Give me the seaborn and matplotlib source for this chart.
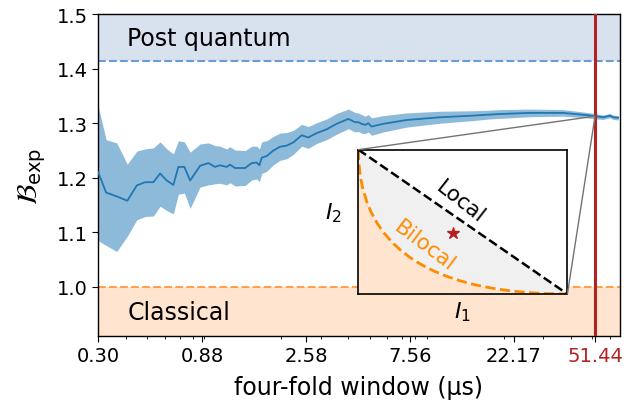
import numpy as np
import matplotlib
matplotlib.use("Agg")
import matplotlib.pyplot as plt
from matplotlib.patches import ConnectionPatch
import matplotlib.transforms as mtransforms
import pandas as pd
import seaborn as sns

# ---------------- data ----------------
window_us = [0.30, 0.326, 0.364, 0.406, 0.448, 0.488, 0.532, 0.570, 0.611, 0.654,
             0.689, 0.733, 0.778, 0.862, 0.939, 1.007, 1.059, 1.135, 1.175, 1.239,
             1.374, 1.473, 1.549, 1.593, 1.633, 1.719, 1.842, 1.973, 2.114, 2.265,
             2.469, 2.643, 2.883, 3.198, 3.546, 4.00, 4.287, 4.437, 4.59, 4.755,
             4.92, 5.09, 5.745, 7.32, 10.33, 14.58, 17.34, 19.23, 26.24, 37.0,
             47.1, 51.44, 56.0, 60.0, 62.1, 65.4]
B_mean = [1.211, 1.173, 1.166, 1.158, 1.186, 1.192, 1.192, 1.208, 1.195, 1.187,
          1.220, 1.220, 1.195, 1.222, 1.227, 1.220, 1.223, 1.220, 1.224, 1.218,
          1.218, 1.227, 1.228, 1.223, 1.237, 1.240, 1.250, 1.257, 1.259, 1.265,
          1.278, 1.274, 1.282, 1.289, 1.299, 1.308, 1.302, 1.302, 1.299, 1.297,
          1.300, 1.294, 1.299, 1.306, 1.311, 1.314, 1.316, 1.317, 1.319, 1.319,
          1.315, 1.313, 1.311, 1.314, 1.311, 1.310]
B_low = [1.085, 1.076, 1.065, 1.093, 1.123, 1.129, 1.130, 1.148, 1.140, 1.134,
         1.170, 1.172, 1.144, 1.183, 1.187, 1.189, 1.190, 1.187, 1.191, 1.185,
         1.186, 1.196, 1.198, 1.193, 1.208, 1.212, 1.224, 1.232, 1.235, 1.243,
         1.258, 1.254, 1.263, 1.270, 1.280, 1.290, 1.284, 1.285, 1.282, 1.281,
         1.284, 1.278, 1.284, 1.293, 1.300, 1.305, 1.308, 1.309, 1.312, 1.313,
         1.310, 1.308, 1.307, 1.310, 1.307, 1.306]
B_high = [1.332, 1.270, 1.264, 1.225, 1.249, 1.253, 1.255, 1.266, 1.253, 1.244,
          1.268, 1.266, 1.247, 1.262, 1.264, 1.259, 1.258, 1.253, 1.257, 1.251,
          1.250, 1.258, 1.258, 1.253, 1.266, 1.268, 1.276, 1.282, 1.283, 1.287,
          1.298, 1.294, 1.301, 1.308, 1.318, 1.326, 1.320, 1.319, 1.316, 1.313,
          1.316, 1.310, 1.314, 1.319, 1.322, 1.323, 1.324, 1.325, 1.326, 1.325,
          1.320, 1.318, 1.315, 1.318, 1.315, 1.314]

x_ticks = [0.30, 0.88, 2.58, 7.56, 22.17, 51.44]
x_ticklabels = ["0.30", "0.88", "2.58", "7.56", "22.17", "51.44"]
y_ticks = [1.0, 1.1, 1.2, 1.3, 1.4, 1.5]
chosen_window = 51.44
chosen_B = 1.313
classical_bound = 1.0
quantum_bound = 1.4142

# inset: bilocal boundary (I1, I2) and local boundary
bilocal_I1 = [0.0, 0.0025, 0.01, 0.02, 0.04, 0.06, 0.09, 0.12, 0.16, 0.20, 0.25,
              0.30, 0.36, 0.42, 0.49, 0.56, 0.64, 0.72, 0.81, 0.90, 1.0]
bilocal_I2 = [1.0, 0.9025, 0.81, 0.7372, 0.64, 0.5701, 0.49, 0.4272, 0.36, 0.3056,
              0.25, 0.2046, 0.16, 0.1238, 0.09, 0.0634, 0.04, 0.0230, 0.01, 0.0026, 0.0]
local_I1 = [0.0, 1.0]
local_I2 = [1.0, 0.0]
point_I1 = [0.452]
point_I2 = [0.42]

df = pd.DataFrame({"window": window_us, "B": B_mean, "lo": B_low, "hi": B_high})

# ---------------- style ----------------
sns.set_style("ticks")
plt.rcParams["font.family"] = ["DejaVu Sans"]
plt.rcParams["mathtext.fontset"] = "dejavusans"
for k in ["text.color", "axes.labelcolor", "xtick.color", "ytick.color", "axes.edgecolor"]:
    plt.rcParams[k] = "black"

fig = plt.figure(figsize=(6.41, 4.10), dpi=100)
ax = fig.add_axes([0.153, 0.178, 0.814, 0.785])
ax.set_xscale("log")

C0 = "#1f77b4"
red = "#b22222"
orange = "#ff7f0e"

ax.axhspan(quantum_bound, 1.5, color="#d8e2ef", zorder=0, lw=0)
ax.axhspan(0.9, classical_bound, color="#ffe5cf", zorder=0, lw=0)
ax.axhline(quantum_bound, color="#6a9bd1", ls="--", lw=1.5, zorder=1)
ax.axhline(classical_bound, color=orange, alpha=0.7, ls="--", lw=1.5, zorder=1)

ax.fill_between(df["window"], df["lo"], df["hi"], color=C0, alpha=0.5, lw=0, zorder=2)
sns.lineplot(data=df, x="window", y="B", ax=ax, color=C0, lw=1.3, zorder=3)
ax.axvline(chosen_window, color=red, lw=2.2, zorder=4)

ax.set_xlim(0.30, 66.5)
ax.set_ylim(0.91, 1.5)
ax.set_xticks(x_ticks)
ax.set_xticklabels(x_ticklabels)
ax.xaxis.set_minor_formatter(matplotlib.ticker.NullFormatter())
ax.set_yticks(y_ticks)
ax.tick_params(axis="both", which="major", labelsize=14, length=4, color="black")
ax.tick_params(axis="x", which="minor", length=2.5, color="black")
ax.get_xticklabels()[-1].set_color(red)
for s in ax.spines.values():
    s.set_linewidth(1.0)
    s.set_color("black")

ax.set_xlabel("four-fold window (µs)", fontsize=17, labelpad=7)
ax.set_ylabel(r"$\mathcal{B}_{\mathrm{exp}}$", fontsize=20, labelpad=6)

trans = mtransforms.blended_transform_factory(ax.transAxes, ax.transData)
ax.text(0.056, 1.456, "Post quantum", fontsize=17, va="center", ha="left", transform=trans)
ax.text(0.056, 0.954, "Classical", fontsize=17, va="center", ha="left", transform=trans)

# ---------------- inset ----------------
axin = fig.add_axes([0.5591, 0.2805, 0.3261, 0.352])
axin.set_xlim(0, 1)
axin.set_ylim(0, 1)
axin.set_facecolor("white")
axin.fill_between(bilocal_I1, 0, bilocal_I2, color="#ffe5cf", lw=0, zorder=0)
axin.fill(bilocal_I1, bilocal_I2, color="#f0f0f0", lw=0, zorder=0)
sns.lineplot(x=bilocal_I1, y=bilocal_I2, ax=axin, color="darkorange", ls="--", lw=2, zorder=2, sort=False)
sns.lineplot(x=local_I1, y=local_I2, ax=axin, color="black", ls="--", lw=1.8, zorder=2)
axin.plot(point_I1, point_I2, marker="*", color=red, ms=9, ls="none", zorder=3)
axin.set_xticks([])
axin.set_yticks([])
axin.set_xlabel("")
axin.set_ylabel("")
for s in axin.spines.values():
    s.set_linewidth(1.2)
    s.set_color("black")
axin.text(0.487, 0.64, "Local", rotation=-38, fontsize=15.5, ha="center", va="center",
          transform=axin.transAxes, rotation_mode="anchor")
axin.text(0.319, 0.335, "Bilocal", rotation=-37, fontsize=15.5, ha="center", va="center",
          color="darkorange", transform=axin.transAxes, rotation_mode="anchor")
axin.text(0.5, -0.12, r"$I_1$", fontsize=16, ha="center", va="center", transform=axin.transAxes)
axin.text(-0.12, 0.57, r"$I_2$", fontsize=16, ha="center", va="center", transform=axin.transAxes)

for corner in [(0, 1), (1, 0)]:
    con = ConnectionPatch(xyA=corner, coordsA=axin.transAxes,
                          xyB=(chosen_window, chosen_B), coordsB=ax.transData,
                          color="0.45", lw=1.0, zorder=5)
    fig.add_artist(con)

fig.savefig("out.png", dpi=100)
